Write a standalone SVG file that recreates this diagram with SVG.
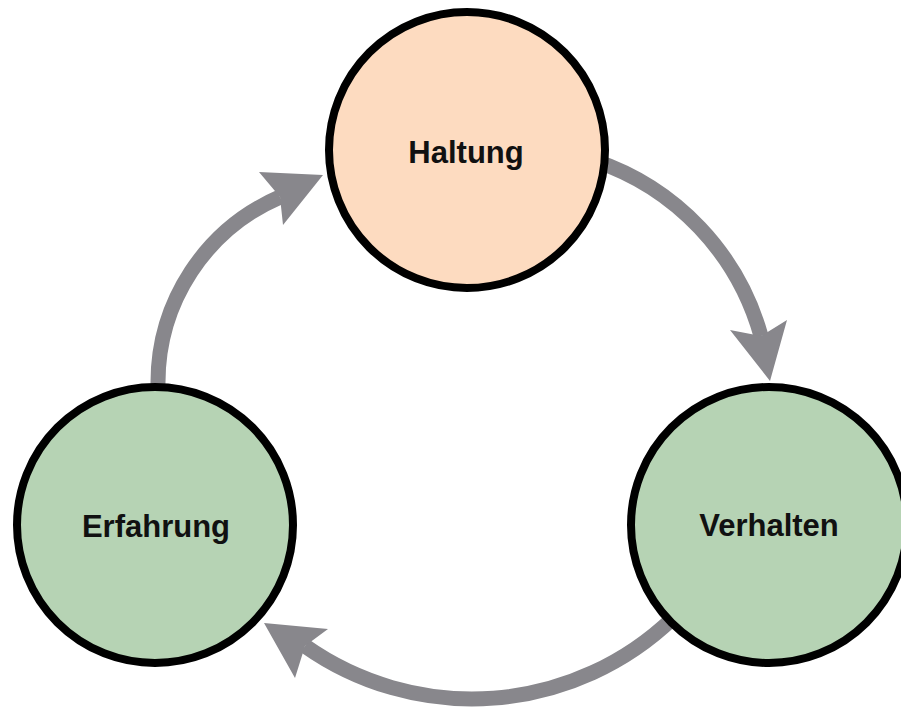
<svg xmlns="http://www.w3.org/2000/svg" width="901" height="707" viewBox="0 0 901 707">
  <style>
    .conn { fill: none; stroke: #88878C; stroke-width: 15; }
    .head { fill: #88878C; stroke: none; }
    .node { stroke: #000000; stroke-width: 8; }
    .peach { fill: #FDDBC0; }
    .green { fill: #B6D3B4; }
    .label { font-family: "Liberation Sans", Arial, Helvetica, sans-serif; font-weight: bold; font-size: 31px; fill: #111111; text-anchor: middle; }
  </style>
  <rect x="0" y="0" width="901" height="707" fill="#FFFFFF"/>
  <g id="connectors">
    <path class="conn" d="M158,395 L158,383 A202,202 0 0 1 280,197"/>
    <polygon class="head" points="323,175 259,172 280,197 283,225"/>
    <path class="conn" d="M594.7,160.6 A258,258 0 0 1 761,336"/>
    <polygon class="head" points="770,381 730,330 761,336 787,320"/>
    <path class="conn" d="M672.4,618.6 A290,290 0 0 1 305,646"/>
    <polygon class="head" points="264,623 328,629 305,646 295,678"/>
  </g>
  <g id="node-haltung">
    <circle class="node peach" cx="467" cy="150" r="138"/>
    <text class="label" x="466" y="163">Haltung</text>
  </g>
  <g id="node-erfahrung">
    <circle class="node green" cx="155" cy="525" r="138"/>
    <text class="label" x="156" y="537">Erfahrung</text>
  </g>
  <g id="node-verhalten">
    <circle class="node green" cx="769" cy="525" r="138"/>
    <text class="label" x="769" y="536">Verhalten</text>
  </g>
</svg>
